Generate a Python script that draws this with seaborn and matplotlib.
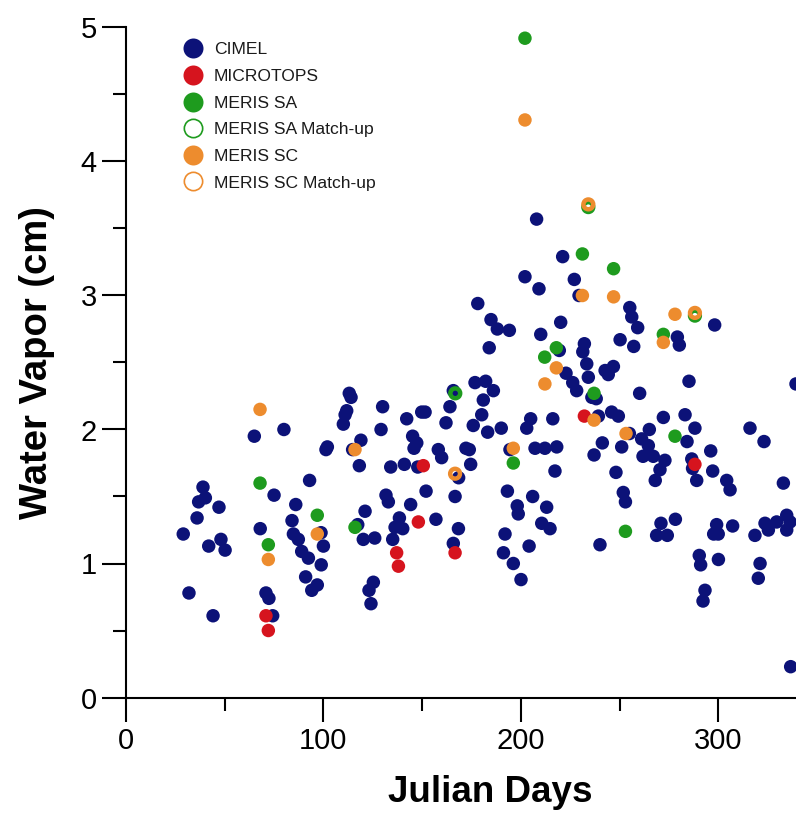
import matplotlib
matplotlib.use("Agg")
import matplotlib.pyplot as plt
from matplotlib.lines import Line2D
from matplotlib.ticker import MultipleLocator
import seaborn as sns

# --- data (Julian day, water vapour in cm) ---
cimel_day = [29.0, 31.9, 36.0, 36.8, 39.0, 40.2, 41.9, 44.1, 47.1, 48.1, 50.2,
             65.0, 68.0, 70.9, 72.4, 74.3, 75.0, 80.0,
             84.1, 84.8, 86.0, 87.3, 89.0, 91.0, 92.4, 93.0, 94.1, 96.9, 98.8, 98.9, 100.0, 101.3, 102.0,
             110.1, 111.0, 111.8, 113.1, 114.0, 114.8, 117.4, 118.2, 119.0, 120.2, 121.1, 123.1, 124.1, 125.3, 126.0,
             129.2, 130.0, 131.7, 132.9, 134.1, 135.1, 136.3, 138.5, 140.2, 141.0, 142.2, 144.2, 145.2, 145.9,
             147.3, 147.8, 149.8, 151.5, 152.0, 157.0, 158.2, 159.9, 162.1, 164.1, 165.8, 165.8, 166.7, 168.4, 168.5,
             172.2, 173.9, 174.6, 175.9, 176.8, 178.2, 180.2, 181.0, 182.2, 183.2, 184.0, 184.9, 186.1, 188.1,
             190.1, 191.2, 192.0, 193.2, 194.2, 194.5, 196.2, 198.2, 198.7, 200.1,
             202.1, 203.0, 204.2, 205.0, 206.0, 207.2, 208.0, 209.2, 210.1, 210.6, 212.2, 213.1, 214.8, 216.2,
             217.3, 218.2, 219.5, 220.2, 221.2, 222.9, 226.3, 227.1, 228.3, 229.5, 231.4, 232.2, 233.4, 234.2,
             236.0, 237.1, 238.2, 239.3, 240.1, 241.3, 242.7, 244.3, 246.0, 246.9, 248.2, 249.4, 250.3, 251.1,
             251.9, 253.0, 255.0, 255.2, 256.2, 257.2, 259.2, 260.2, 261.2, 261.9, 264.6, 265.1, 267.1, 268.1,
             268.8, 270.5, 271.0, 272.2, 273.0, 274.2, 278.3, 279.3, 280.3, 283.2, 284.2, 285.2, 286.6, 287.0,
             288.2, 289.1, 290.4, 291.1, 292.3, 293.3, 296.2, 297.2, 297.7, 298.2, 299.2, 300.0, 300.1, 304.3,
             306.0, 307.3, 316.1, 318.6, 320.3, 321.2, 323.2, 323.7, 325.4, 329.6, 333.0, 334.7, 334.7, 336.4,
             336.7, 339.4]
cimel_wv = [1.22, 0.78, 1.34, 1.46, 1.57, 1.49, 1.13, 0.61, 1.42, 1.18, 1.10,
            1.95, 1.26, 0.78, 0.74, 0.61, 1.51, 2.00,
            1.32, 1.22, 1.44, 1.18, 1.09, 0.90, 1.04, 1.62, 0.80, 0.84, 1.23, 0.99, 1.13, 1.85, 1.87,
            2.04, 2.11, 2.14, 2.27, 2.24, 1.85, 1.29, 1.73, 1.92, 1.18, 1.39, 0.80, 0.70, 0.86, 1.19,
            2.00, 2.17, 1.51, 1.46, 1.72, 1.18, 1.27, 1.34, 1.26, 1.74, 2.08, 1.44, 1.95, 1.86,
            1.90, 1.72, 2.13, 2.13, 1.54, 1.33, 1.85, 1.79, 2.05, 2.17, 2.29, 1.15, 1.50, 1.26, 1.64,
            1.86, 1.85, 1.74, 2.03, 2.35, 2.94, 2.11, 2.22, 2.36, 1.98, 2.61, 2.82, 2.29, 2.75,
            2.01, 1.08, 1.22, 1.54, 2.74, 1.85, 1.00, 1.43, 1.37, 0.88,
            3.14, 2.01, 1.13, 2.08, 1.50, 1.86, 3.57, 3.05, 2.71, 1.30, 1.86, 1.42, 1.26, 2.08,
            1.69, 1.87, 2.59, 2.80, 3.29, 2.42, 2.35, 3.12, 2.29, 3.00, 2.58, 2.64, 2.49, 2.39,
            2.24, 1.81, 2.23, 2.10, 1.14, 1.90, 2.44, 2.41, 2.13, 2.47, 1.68, 2.10, 2.67, 1.87,
            1.53, 1.46, 1.97, 2.91, 2.84, 2.62, 2.76, 2.27, 1.93, 1.80, 1.88, 2.00, 1.80, 1.62,
            1.21, 1.70, 1.30, 2.09, 1.77, 1.21, 1.33, 2.69, 2.63, 2.11, 1.91, 2.36, 1.78, 1.71,
            2.01, 1.62, 1.06, 0.99, 0.72, 0.80, 1.84, 1.69, 1.22, 2.78, 1.29, 1.22, 1.03, 1.62,
            1.55, 1.28, 2.01, 1.21, 0.89, 1.00, 1.91, 1.30, 1.25, 1.31, 1.60, 1.36, 1.25, 1.31,
            0.23, 2.34]

microtops_day = [70.9, 72.1, 137.1, 138.0, 148.1, 150.6, 166.7, 232.2, 288.2]
microtops_wv = [0.61, 0.50, 1.08, 0.98, 1.31, 1.73, 1.08, 2.10, 1.74]

sa_day = [67.9, 72.1, 96.9, 116.0, 196.2, 202.1, 212.1, 218.0, 231.2, 237.1, 247.0, 253.0, 272.2, 278.1]
sa_wv = [1.60, 1.14, 1.36, 1.27, 1.75, 4.92, 2.54, 2.61, 3.31, 2.27, 3.20, 1.24, 2.71, 1.95]

sa_match_day = [166.8, 234.2, 288.2]
sa_match_wv = [2.27, 3.66, 2.85]

sc_day = [67.9, 72.1, 96.9, 116.0, 196.2, 202.1, 212.2, 218.0, 231.2, 237.1, 247.0, 253.3, 272.2, 278.1]
sc_wv = [2.15, 1.03, 1.22, 1.85, 1.86, 4.31, 2.34, 2.46, 3.00, 2.07, 2.99, 1.97, 2.65, 2.86]

sc_match_day = [166.7, 234.2, 288.2]
sc_match_wv = [1.67, 3.68, 2.87]

labels = ["CIMEL", "MICROTOPS", "MERIS SA", "MERIS SA Match-up", "MERIS SC", "MERIS SC Match-up"]
blue, red, green, orange = "#0c1278", "#d6141e", "#1e9b1e", "#ed8c2e"

sns.set_style("ticks")
plt.rcParams["font.family"] = ["Liberation Sans", "DejaVu Sans"]
plt.rcParams["text.color"] = "black"
plt.rcParams["axes.labelcolor"] = "black"
plt.rcParams["xtick.color"] = "black"
plt.rcParams["ytick.color"] = "black"

fig = plt.figure(figsize=(7.96, 8.13), dpi=100)
ax = fig.add_axes([126 / 796, 115.5 / 813, 670 / 796, 670 / 813])

dot = dict(s=94, linewidth=0, edgecolor="none")
ring = dict(s=50, linewidth=3.2)

sns.scatterplot(x=cimel_day, y=cimel_wv, ax=ax, color=blue, **dot)
sns.scatterplot(x=microtops_day, y=microtops_wv, ax=ax, color=red, **dot)
sns.scatterplot(x=sa_day, y=sa_wv, ax=ax, color=green, **dot)
sns.scatterplot(x=sa_match_day, y=sa_match_wv, ax=ax, color=green,
                facecolor="none", edgecolor=green, **ring)
sns.scatterplot(x=sc_day, y=sc_wv, ax=ax, color=orange, **dot)
sns.scatterplot(x=sc_match_day, y=sc_match_wv, ax=ax, color=orange,
                facecolor="none", edgecolor=orange, **ring)

ax.set_xlim(0, 339.4)
ax.set_ylim(0, 5)
ax.xaxis.set_major_locator(MultipleLocator(100))
ax.xaxis.set_minor_locator(MultipleLocator(50))
ax.yaxis.set_major_locator(MultipleLocator(1))
ax.yaxis.set_minor_locator(MultipleLocator(0.5))

sns.despine(ax=ax)
for side in ["left", "bottom"]:
    ax.spines[side].set_linewidth(1.5)
    ax.spines[side].set_color("black")
ax.tick_params(which="major", length=17, width=1.5, colors="black", labelsize=21, pad=4)
ax.tick_params(which="minor", length=9.5, width=1.5, color="black")

ax.set_xlabel("Julian Days", fontsize=26.5, fontweight="bold", color="black")
ax.set_ylabel("Water Vapor (cm)", fontsize=27.5, fontweight="bold", color="black")
ax.xaxis.set_label_coords(0.543, -0.115)
ax.yaxis.set_label_coords(-0.106, 0.5)

handles = [
    Line2D([], [], ls="none", marker="o", ms=14.4, mfc=blue, mec="none"),
    Line2D([], [], ls="none", marker="o", ms=14.4, mfc=red, mec="none"),
    Line2D([], [], ls="none", marker="o", ms=14.4, mfc=green, mec="none"),
    Line2D([], [], ls="none", marker="o", ms=13.2, mfc="white", mec=green, mew=1.2),
    Line2D([], [], ls="none", marker="o", ms=14.4, mfc=orange, mec="none"),
    Line2D([], [], ls="none", marker="o", ms=13.2, mfc="white", mec=orange, mew=1.2),
]
leg = ax.legend(handles, labels, loc="upper left", bbox_to_anchor=(0.084, 0.978),
                frameon=False, fontsize=12.6, borderpad=0, borderaxespad=0,
                handlelength=1.2, handletextpad=0.6, labelspacing=0.65)
for t in leg.get_texts():
    t.set_color("#1a1a1a")

fig.savefig("out.png", dpi=100, facecolor="white")
